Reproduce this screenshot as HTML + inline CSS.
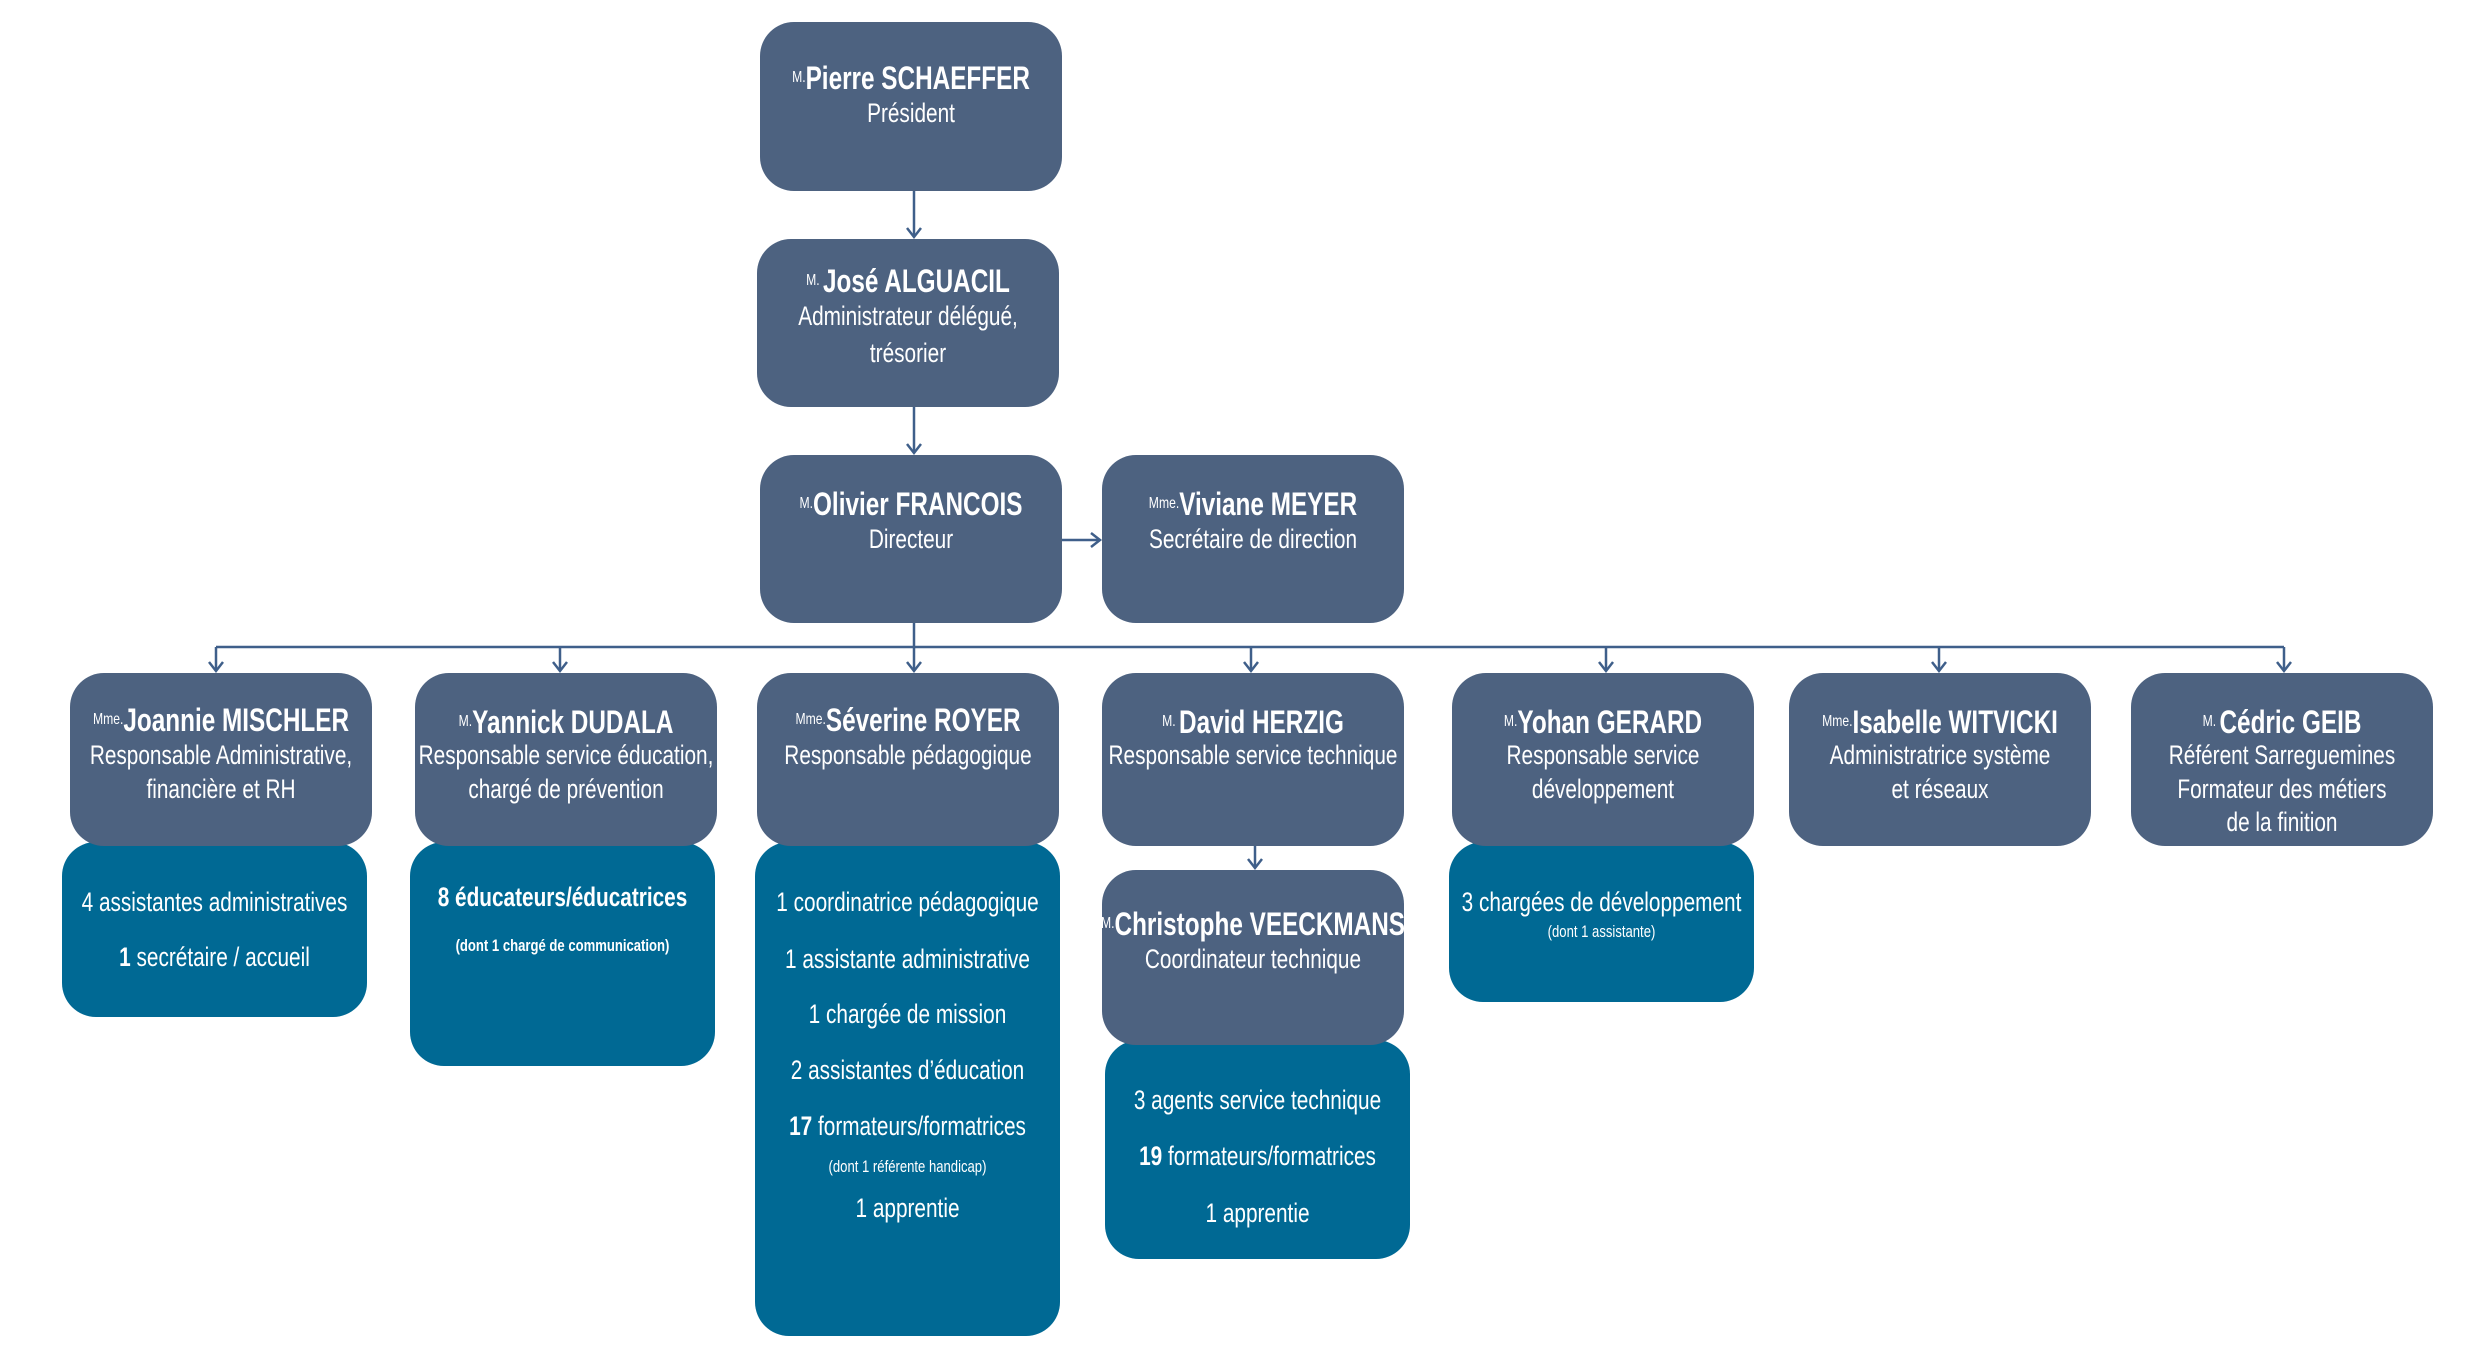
<!DOCTYPE html>
<html><head><meta charset="utf-8"><style>
body{margin:0;width:2481px;height:1351px;background:#fff;position:relative;overflow:hidden;font-family:"Liberation Sans",sans-serif;}
#w{position:absolute;left:-3px;top:0;width:2481px;height:1351px;}
.b{position:absolute;border-radius:34px;}
.s{background:#4d6280;}
.g{background:#006994;}
.t{position:absolute;display:flex;justify-content:center;color:#fff;height:40px;line-height:40px;font-size:27px;white-space:nowrap;transform:scaleX(0.77);transform-origin:center;}
.n{font-weight:bold;font-size:32px;transform:scaleX(0.76);}
.p{font-size:16px;font-weight:normal;}
.sm{font-size:17px;}
svg{position:absolute;left:0;top:0;}
</style></head><body><div id="w">
<svg width="2481" height="1351" viewBox="0 0 2481 1351">
<g stroke="#3f5f8a" stroke-width="2.5" fill="none">
<line x1="917" y1="191" x2="917" y2="237"/><polyline points="910,228 917,237 924,228"/>
<line x1="917" y1="407" x2="917" y2="453"/><polyline points="910,444 917,453 924,444"/>
<line x1="1065" y1="540" x2="1103" y2="540"/><polyline points="1094,533 1103,540 1094,547"/>
<line x1="917" y1="623" x2="917" y2="671"/>
<line x1="219" y1="647" x2="2287" y2="647"/>
<line x1="219" y1="647" x2="219" y2="671"/><polyline points="212,662 219,671 226,662"/>
<line x1="563" y1="647" x2="563" y2="671"/><polyline points="556,662 563,671 570,662"/>
<polyline points="910,662 917,671 924,662"/>
<line x1="1254" y1="647" x2="1254" y2="671"/><polyline points="1247,662 1254,671 1261,662"/>
<line x1="1609" y1="647" x2="1609" y2="671"/><polyline points="1602,662 1609,671 1616,662"/>
<line x1="1942" y1="647" x2="1942" y2="671"/><polyline points="1935,662 1942,671 1949,662"/>
<line x1="2287" y1="647" x2="2287" y2="671"/><polyline points="2280,662 2287,671 2294,662"/>
<line x1="1258" y1="846" x2="1258" y2="868"/><polyline points="1251,859 1258,868 1265,859"/>
</g></svg>

<div class="b s" style="left:763px;top:22px;width:302px;height:169px"></div>
<div class="b s" style="left:760px;top:239px;width:302px;height:168px"></div>
<div class="b s" style="left:763px;top:455px;width:302px;height:168px"></div>
<div class="b s" style="left:1105px;top:455px;width:302px;height:168px"></div>

<div class="b g" style="left:65px;top:842px;width:305px;height:175px"></div>
<div class="b g" style="left:413px;top:842px;width:305px;height:224px"></div>
<div class="b g" style="left:758px;top:842px;width:305px;height:494px"></div>
<div class="b g" style="left:1108px;top:1040px;width:305px;height:219px"></div>
<div class="b g" style="left:1452px;top:842px;width:305px;height:160px"></div>

<div class="b s" style="left:73px;top:673px;width:302px;height:173px"></div>
<div class="b s" style="left:418px;top:673px;width:302px;height:173px"></div>
<div class="b s" style="left:760px;top:673px;width:302px;height:173px"></div>
<div class="b s" style="left:1105px;top:673px;width:302px;height:173px"></div>
<div class="b s" style="left:1455px;top:673px;width:302px;height:173px"></div>
<div class="b s" style="left:1792px;top:673px;width:302px;height:173px"></div>
<div class="b s" style="left:2134px;top:673px;width:302px;height:173px"></div>
<div class="b s" style="left:1105px;top:870px;width:302px;height:175px"></div>

<div class="t n" style="left:763px;width:302px;top:58px"><span class="p">M.</span>Pierre SCHAEFFER</div>
<div class="t" style="left:763px;width:302px;top:93px">Président</div>

<div class="t n" style="left:760px;width:302px;top:261px"><span class="p">M.&nbsp;</span>José ALGUACIL</div>
<div class="t" style="left:760px;width:302px;top:296px">Administrateur délégué,</div>
<div class="t" style="left:760px;width:302px;top:333px">trésorier</div>

<div class="t n" style="left:763px;width:302px;top:484px"><span class="p">M.</span>Olivier FRANCOIS</div>
<div class="t" style="left:763px;width:302px;top:519px">Directeur</div>

<div class="t n" style="left:1105px;width:302px;top:484px"><span class="p">Mme.</span>Viviane MEYER</div>
<div class="t" style="left:1105px;width:302px;top:519px">Secrétaire de direction</div>

<div class="t n" style="left:73px;width:302px;top:700px"><span class="p">Mme.</span>Joannie MISCHLER</div>
<div class="t" style="left:73px;width:302px;top:735px">Responsable Administrative,</div>
<div class="t" style="left:73px;width:302px;top:769px">financière et RH</div>

<div class="t n" style="left:418px;width:302px;top:702px"><span class="p">M.</span>Yannick DUDALA</div>
<div class="t" style="left:418px;width:302px;top:735px">Responsable service éducation,</div>
<div class="t" style="left:418px;width:302px;top:769px">chargé de prévention</div>

<div class="t n" style="left:760px;width:302px;top:700px"><span class="p">Mme.</span>Séverine ROYER</div>
<div class="t" style="left:760px;width:302px;top:735px">Responsable pédagogique</div>

<div class="t n" style="left:1105px;width:302px;top:702px"><span class="p">M.&nbsp;</span>David HERZIG</div>
<div class="t" style="left:1105px;width:302px;top:735px">Responsable service technique</div>

<div class="t n" style="left:1455px;width:302px;top:702px"><span class="p">M.</span>Yohan GERARD</div>
<div class="t" style="left:1455px;width:302px;top:735px">Responsable service</div>
<div class="t" style="left:1455px;width:302px;top:769px">développement</div>

<div class="t n" style="left:1792px;width:302px;top:702px"><span class="p">Mme.</span>Isabelle WITVICKI</div>
<div class="t" style="left:1792px;width:302px;top:735px">Administratrice système</div>
<div class="t" style="left:1792px;width:302px;top:769px">et réseaux</div>

<div class="t n" style="left:2134px;width:302px;top:702px"><span class="p">M.&nbsp;</span>Cédric GEIB</div>
<div class="t" style="left:2134px;width:302px;top:735px">Référent Sarreguemines</div>
<div class="t" style="left:2134px;width:302px;top:769px">Formateur des métiers</div>
<div class="t" style="left:2134px;width:302px;top:802px">de la finition</div>

<div class="t n" style="left:1105px;width:302px;top:904px"><span class="p">M.</span>Christophe VEECKMANS</div>
<div class="t" style="left:1105px;width:302px;top:939px">Coordinateur technique</div>

<div class="t" style="left:65px;width:305px;top:882px">4 assistantes administratives</div>
<div class="t" style="left:65px;width:305px;top:937px"><b>1</b>&nbsp;secrétaire / accueil</div>

<div class="t" style="left:413px;width:305px;top:877px;font-weight:bold">8 éducateurs/éducatrices</div>
<div class="t sm" style="left:413px;width:305px;top:926px;font-weight:bold">(dont 1 chargé de communication)</div>

<div class="t" style="left:758px;width:305px;top:882px">1 coordinatrice pédagogique</div>
<div class="t" style="left:758px;width:305px;top:939px">1 assistante administrative</div>
<div class="t" style="left:758px;width:305px;top:994px">1 chargée de mission</div>
<div class="t" style="left:758px;width:305px;top:1050px">2 assistantes d’éducation</div>
<div class="t" style="left:758px;width:305px;top:1106px"><b>17</b>&nbsp;formateurs/formatrices</div>
<div class="t sm" style="left:758px;width:305px;top:1147px">(dont 1 référente handicap)</div>
<div class="t" style="left:758px;width:305px;top:1188px">1 apprentie</div>

<div class="t" style="left:1108px;width:305px;top:1080px">3 agents service technique</div>
<div class="t" style="left:1108px;width:305px;top:1136px"><b>19</b>&nbsp;formateurs/formatrices</div>
<div class="t" style="left:1108px;width:305px;top:1193px">1 apprentie</div>

<div class="t" style="left:1452px;width:305px;top:882px">3 chargées de développement</div>
<div class="t sm" style="left:1452px;width:305px;top:912px">(dont 1 assistante)</div>
</div></body></html>
